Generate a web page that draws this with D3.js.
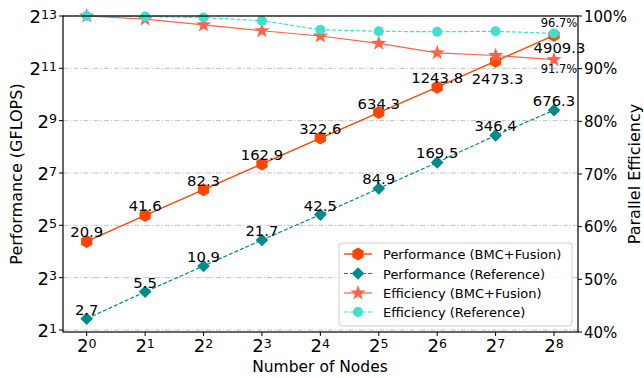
<!DOCTYPE html>
<html><head><meta charset="utf-8">
<script src="https://cdn.jsdelivr.net/npm/d3@7"></script>
<style>
body{margin:0;background:#fff;}
svg{font-family:"DejaVu Sans",sans-serif;}
</style></head>
<body><svg id="c" width="644" height="378"></svg>
<script>
const nodes = [1, 2, 4, 8, 16, 32, 64, 128, 256];
const nodeExp = [0, 1, 2, 3, 4, 5, 6, 7, 8];
const perfBMC = [20.9, 41.6, 82.3, 162.9, 322.6, 634.3, 1243.8, 2473.3, 4909.3];
const perfRef = [2.7, 5.5, 10.9, 21.7, 42.5, 84.9, 169.5, 346.4, 676.3];
const effBMC = [100, 99.4, 98.3, 97.2, 96.2, 94.8, 93.0, 92.5, 91.7];
const effRef = [100, 99.9, 99.7, 99.1, 97.4, 97.1, 97.0, 97.1, 96.7];
const leftTickExp = [1, 3, 5, 7, 9, 11, 13];
const rightTicks = [40, 50, 60, 70, 80, 90, 100];
const seriesNames = ["Performance (BMC+Fusion)", "Performance (Reference)", "Efficiency (BMC+Fusion)", "Efficiency (Reference)"];

const C_BMC = "#FF4500", C_REF = "#008B8B", C_EB = "#FF6347", C_ER = "#40E0D0";

const svg = d3.select("#c");
const L = 63, R = 578, T = 16, B = 332;

const xs = d3.scaleLinear().domain([0, 8]).range([86.7, 554]);
const X = v => xs(Math.log2(v));
const yL = d3.scaleLog().base(2).domain([2, 8192]).range([330, T]);
const yR = d3.scaleLinear().domain([40, 100]).range([B, T]);

// grid
const g = svg.append("g");
leftTickExp.forEach(e => {
  g.append("line").attr("x1", L).attr("x2", R).attr("y1", yL(2 ** e)).attr("y2", yL(2 ** e))
    .attr("stroke", "#b0b0b0").attr("stroke-width", 0.8).attr("stroke-dasharray", "5,2,1.2,2");
});

function hexPath(r) {
  const p = d3.path();
  for (let k = 0; k < 6; k++) {
    const a = Math.PI / 2 + k * Math.PI / 3;
    const px = r * Math.cos(a), py = -r * Math.sin(a);
    k ? p.lineTo(px, py) : p.moveTo(px, py);
  }
  p.closePath(); return p.toString();
}
function starPath(r) {
  const p = d3.path(), ri = r * 0.4;
  for (let k = 0; k < 10; k++) {
    const a = Math.PI / 2 + k * Math.PI / 5, rr = k % 2 ? ri : r;
    const px = rr * Math.cos(a), py = -rr * Math.sin(a);
    k ? p.lineTo(px, py) : p.moveTo(px, py);
  }
  p.closePath(); return p.toString();
}
function diamondPath(r) { return `M0,${-r}L${r},0L0,${r}L${-r},0Z`; }
function circlePath(r) { const p = d3.path(); p.arc(0, 0, r, 0, 2 * Math.PI); return p.toString(); }

const markers = [
  {d: hexPath(6.5), c: C_BMC},
  {d: diamondPath(6.3), c: C_REF},
  {d: starPath(8), c: C_EB},
  {d: circlePath(5), c: C_ER}
];
const dashes = [null, "4,2", null, "4,2"];
const widths = [1.4, 1.2, 1.2, 1.2];

const series = [
  {vals: perfBMC, y: yL},
  {vals: perfRef, y: yL},
  {vals: effBMC, y: yR},
  {vals: effRef, y: yR}
];

// label placement: default above the point; last two BMC labels placed below
function labelOffset(i, j) {
  if (i === 0 && j === 7) return [2, 22.5];
  if (i === 0 && j === 8) return [5.5, 18];
  return [0, -4];
}

const plot = svg.append("g");
series.forEach((s, i) => {
  const line = d3.line().x((d, j) => X(nodes[j])).y(d => s.y(d));
  plot.append("path").attr("d", line(s.vals)).attr("fill", "none")
    .attr("stroke", markers[i].c).attr("stroke-width", widths[i])
    .attr("stroke-dasharray", dashes[i]);
  s.vals.forEach((v, j) => {
    plot.append("path").attr("d", markers[i].d)
      .attr("transform", `translate(${X(nodes[j])},${s.y(v)})`)
      .attr("fill", markers[i].c);
  });
});
series.slice(0, 2).forEach((s, i) => {
  s.vals.forEach((v, j) => {
    const [dx, dy] = labelOffset(i, j);
    plot.append("text").attr("x", X(nodes[j]) + dx).attr("y", s.y(v) + dy)
      .attr("text-anchor", "middle").attr("font-size", 14.8).attr("fill", "#000")
      .text(v.toFixed(1));
  });
});
// final efficiency annotations
const last = nodes.length - 1;
plot.append("text").attr("x", X(nodes[last]) + 5).attr("y", yR(effRef[last]) - 6)
  .attr("text-anchor", "middle").attr("font-size", 11.5).text(effRef[last].toFixed(1) + "%");
plot.append("text").attr("x", X(nodes[last]) + 5).attr("y", yR(effBMC[last]) + 13.6)
  .attr("text-anchor", "middle").attr("font-size", 11.5).text(effBMC[last].toFixed(1) + "%");

// frame
svg.append("rect").attr("x", L).attr("y", T).attr("width", R - L).attr("height", B - T)
  .attr("fill", "none").attr("stroke", "#000").attr("stroke-width", 1.2);

// left ticks
leftTickExp.forEach(e => {
  const yy = yL(2 ** e);
  svg.append("line").attr("x1", L - 4).attr("x2", L).attr("y1", yy).attr("y2", yy).attr("stroke", "#000");
  const t = svg.append("text").attr("x", L - 6).attr("y", yy + 7).attr("text-anchor", "end").attr("font-size", 18);
  t.append("tspan").text("2");
  t.append("tspan").attr("font-size", 12.6).attr("dy", -4.5).text(e);
});
// right ticks
rightTicks.forEach(v => {
  const yy = yR(v);
  svg.append("line").attr("x1", R).attr("x2", R + 4).attr("y1", yy).attr("y2", yy).attr("stroke", "#000");
  svg.append("text").attr("x", R + 6).attr("y", yy + 5.5).attr("font-size", 15).text(v + "%");
});
// x ticks
nodeExp.forEach((e, j) => {
  const xx = X(nodes[j]);
  svg.append("line").attr("x1", xx).attr("x2", xx).attr("y1", B).attr("y2", B + 4).attr("stroke", "#000");
  const t = svg.append("text").attr("x", xx).attr("y", 352).attr("text-anchor", "middle").attr("font-size", 18);
  t.append("tspan").text("2");
  t.append("tspan").attr("font-size", 12.6).attr("dy", -4.5).text(e);
});

// axis labels
svg.append("text").attr("x", 320).attr("y", 372).attr("text-anchor", "middle").attr("font-size", 15.5).text("Number of Nodes");
svg.append("text").attr("transform", "translate(21.5,174) rotate(-90)").attr("text-anchor", "middle").attr("font-size", 16).text("Performance (GFLOPS)");
svg.append("text").attr("transform", "translate(640,174) rotate(-90)").attr("text-anchor", "middle").attr("font-size", 16).text("Parallel Efficiency");

// legend
const lg = svg.append("g");
lg.append("rect").attr("x", 339).attr("y", 243).attr("width", 233).attr("height", 83).attr("rx", 3)
  .attr("fill", "#fff").attr("fill-opacity", 0.8).attr("stroke", "#d0d0d0");
const rowY = [254, 273.5, 293, 312];
seriesNames.forEach((n, i) => {
  const yy = rowY[i];
  lg.append("line").attr("x1", 344).attr("x2", 372).attr("y1", yy).attr("y2", yy)
    .attr("stroke", markers[i].c).attr("stroke-width", widths[i]).attr("stroke-dasharray", dashes[i]);
  lg.append("path").attr("d", markers[i].d).attr("transform", `translate(358,${yy})`).attr("fill", markers[i].c);
  lg.append("text").attr("x", 383).attr("y", yy + 5).attr("font-size", 13).text(n);
});
</script></body></html>
